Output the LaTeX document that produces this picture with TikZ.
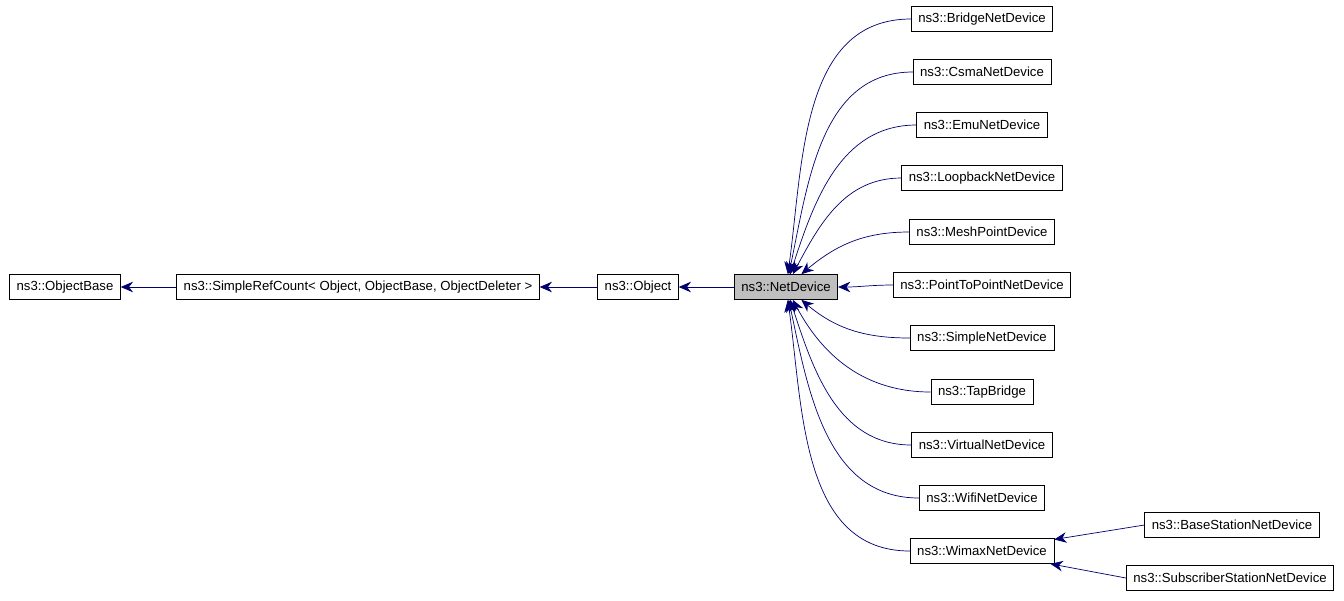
\documentclass[tikz,border=0pt]{standalone}
\usepackage{fontspec}
\setmainfont{Liberation Sans}
\usetikzlibrary{arrows.meta}
\begin{document}
\begin{tikzpicture}[x=0.02cm,y=-0.02cm]

\tikzset{
	cls/.style = {draw, fill=white, rectangle, inner xsep=4pt,
		minimum height=0.5cm, font=\fontsize{7.5}{9}\selectfont},
	edge/.style = {draw=blue!30!black!80!blue, {Stealth[length=7pt,width=6pt]}-, thin}
};
\useasboundingbox (0,0) rectangle (1344,600);

\node[cls] (ob) at (65,287) {ns3::ObjectBase};
\node[cls] (src) at (358,287) {ns3::SimpleRefCount< Object, ObjectBase, ObjectDeleter >};
\node[cls] (obj) at (638,287) {ns3::Object};
\node[cls,fill=black!25] (nd) at (786,287) {ns3::NetDevice};

\draw[edge] (ob) -- (src);
\draw[edge] (src) -- (obj);
\draw[edge] (obj) -- (nd);

% subclasses of NetDevice
\foreach \nm/\txt/\y/\ang in {
	br/BridgeNetDevice/19/82, cs/CsmaNetDevice/72/78, emu/EmuNetDevice/125/72,
	lb/LoopbackNetDevice/178/62, mp/MeshPointDevice/232/40,
	p2p/PointToPointNetDevice/285/0, sim/SimpleNetDevice/338/-40,
	tap/TapBridge/392/-62, vir/VirtualNetDevice/445/-72,
	wifi/WifiNetDevice/498/-78, wmx/WimaxNetDevice/551/-82} {
	\node[cls] (\nm) at (982,\y) {ns3::\txt};
	\draw[edge] (nd) to[in=180,out=\ang] (\nm);
}

\node[cls] (bs) at (1232,525) {ns3::BaseStationNetDevice};
\node[cls] (ss) at (1230,578) {ns3::SubscriberStationNetDevice};
\draw[edge] (wmx) -- (bs.west);
\draw[edge] (wmx) -- (ss.west);

\end{tikzpicture}
\end{document}
